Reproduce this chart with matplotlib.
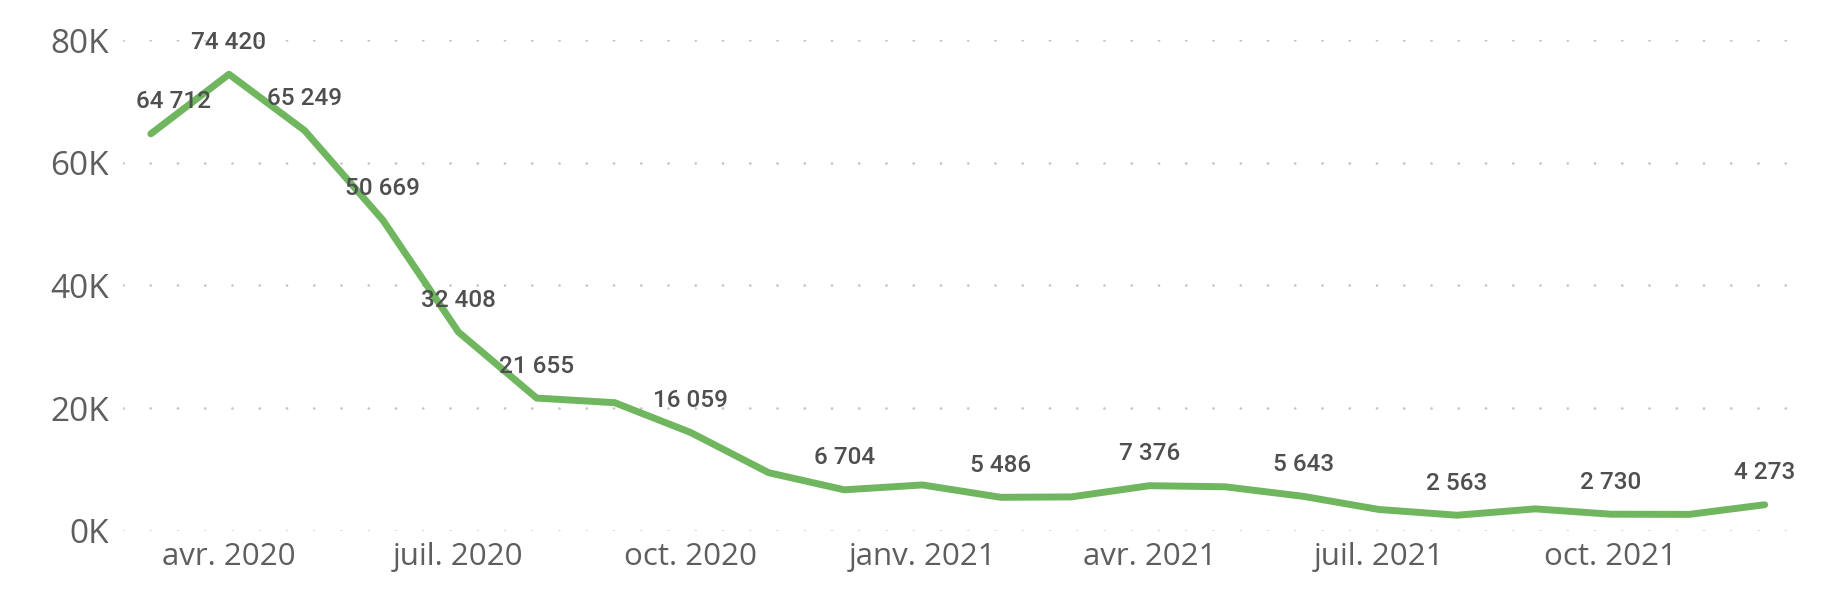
import matplotlib
matplotlib.use("Agg")
import matplotlib.pyplot as plt
import pandas as pd

# monthly values, mars 2020 -> déc. 2021
months = ["2020-03", "2020-04", "2020-05", "2020-06", "2020-07", "2020-08",
          "2020-09", "2020-10", "2020-11", "2020-12", "2021-01", "2021-02",
          "2021-03", "2021-04", "2021-05", "2021-06", "2021-07", "2021-08",
          "2021-09", "2021-10", "2021-11", "2021-12"]
values = [64712, 74420, 65249, 50669, 32408, 21655,
          20900, 16059, 9500, 6704, 7500, 5486,
          5550, 7376, 7200, 5643, 3500, 2563,
          3600, 2730, 2700, 4273]
# months that carry a data label
labelled = ["2020-03", "2020-04", "2020-05", "2020-06", "2020-07", "2020-08",
            "2020-10", "2020-12", "2021-02", "2021-04", "2021-06", "2021-08",
            "2021-10", "2021-12"]

tick_months = ["2020-04", "2020-07", "2020-10", "2021-01", "2021-04", "2021-07", "2021-10"]
tick_labels = ["avr. 2020", "juil. 2020", "oct. 2020", "janv. 2021",
               "avr. 2021", "juil. 2021", "oct. 2021"]
y_ticks = [0, 20000, 40000, 60000, 80000]
y_labels = ["0K", "20K", "40K", "60K", "80K"]

dates = pd.to_datetime(months)

fig = plt.figure(figsize=(18.37, 6.11), dpi=100)
ax = fig.add_axes([0.067, 0.131, 0.906, 0.8035])

ax.plot(dates, values, color="#6FB65F", linewidth=5, solid_capstyle="round",
        solid_joinstyle="round", zorder=3)

# data labels above the points
for d, m, v in zip(dates, months, values):
    if m not in labelled:
        continue
    dx = 16 if m == months[0] else 0
    ax.annotate(f"{v:,}".replace(",", " "), (d, v), xytext=(dx, 23),
                textcoords="offset points", ha="center", va="center",
                fontsize=17.5, fontfamily="Roboto", fontweight="medium",
                color="#4F4F4F", zorder=4)

ax.set_ylim(0, 80000)
ax.set_xlim(pd.Timestamp("2020-02-19"), pd.Timestamp("2021-12-10"))

ax.set_yticks(y_ticks)
ax.set_yticklabels(y_labels, fontsize=24, fontfamily="Open Sans", color="#605E5C")
ax.set_xticks(pd.to_datetime(tick_months))
ax.set_xticklabels(tick_labels, fontsize=22.5, fontfamily="Open Sans", color="#605E5C")
ax.tick_params(axis="y", length=0, pad=10)
ax.tick_params(axis="x", length=0, pad=8)

ax.grid(axis="y", color="#C8C6C4", linewidth=2.0, linestyle=(0, (0.01, 9.8)),
        dash_capstyle="round")
ax.grid(axis="x", visible=False)
for s in ax.spines.values():
    s.set_visible(False)

fig.savefig("out.png", dpi=100)
